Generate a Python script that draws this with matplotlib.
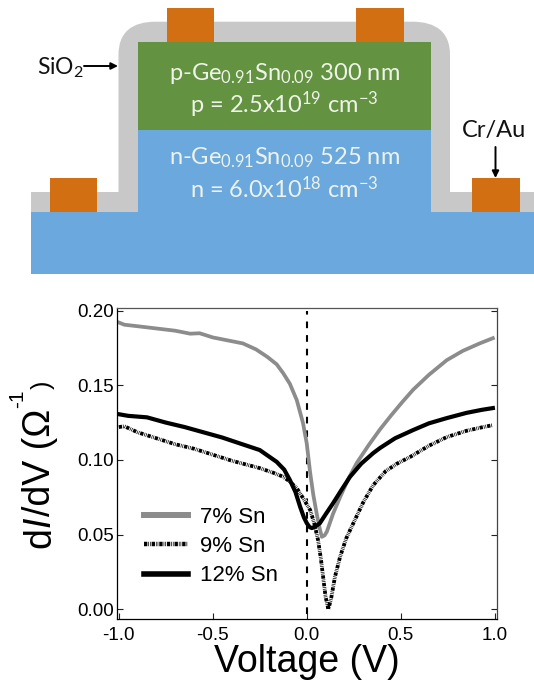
import matplotlib
matplotlib.use("Agg")
import matplotlib.pyplot as plt
from matplotlib.patches import Rectangle, PathPatch
from matplotlib.path import Path

W, H = 534, 686
plt.rcParams['font.family'] = ['Liberation Sans', 'DejaVu Sans']
plt.rcParams['mathtext.fontset'] = 'custom'
plt.rcParams['mathtext.rm'] = 'Lato'
plt.rcParams['mathtext.it'] = 'Lato:italic'
plt.rcParams['lines.scale_dashes'] = False

voltage_a = [-1.0, -0.97, -0.9, -0.8, -0.7, -0.62, -0.57, -0.5, -0.4, -0.34, -0.27, -0.21, -0.16, -0.125, -0.09, -0.053, -0.02, 0.0, 0.018, 0.035, 0.055, 0.07, 0.08, 0.095, 0.107, 0.14, 0.177, 0.22, 0.266, 0.33, 0.39, 0.45, 0.51, 0.566, 0.65, 0.745, 0.83, 0.92, 0.96, 0.99]
sn7 = [0.192, 0.1905, 0.1895, 0.188, 0.1865, 0.1845, 0.1848, 0.182, 0.1795, 0.178, 0.174, 0.169, 0.164, 0.158, 0.151, 0.140, 0.1247, 0.111, 0.0915, 0.0765, 0.0625, 0.0535, 0.0485, 0.0495, 0.052, 0.064, 0.075, 0.087, 0.098, 0.110, 0.1205, 0.130, 0.139, 0.147, 0.157, 0.1668, 0.173, 0.178, 0.180, 0.1815]
voltage_b = [-1.0, -0.97, -0.9, -0.8, -0.7, -0.6, -0.5, -0.4, -0.355, -0.25, -0.18, -0.125, -0.09, -0.053, -0.02, 0.018, 0.04, 0.06, 0.075, 0.087, 0.1, 0.115, 0.13, 0.15, 0.177, 0.21, 0.248, 0.3, 0.353, 0.42, 0.48, 0.55, 0.65, 0.745, 0.85, 0.92, 0.99]
sn9 = [0.122, 0.1225, 0.1185, 0.1145, 0.1105, 0.1075, 0.1035, 0.0995, 0.098, 0.0945, 0.0915, 0.0887, 0.0855, 0.081, 0.0745, 0.0665, 0.0575, 0.0464, 0.034, 0.0217, 0.0085, 0.0, 0.0075, 0.0217, 0.035, 0.0475, 0.0577, 0.0715, 0.083, 0.0925, 0.0975, 0.102, 0.1095, 0.1153, 0.1195, 0.1215, 0.1233]
voltage_c = [-1.0, -0.95, -0.9, -0.85, -0.75, -0.65, -0.55, -0.45, -0.355, -0.25, -0.16, -0.12, -0.09, -0.06, -0.035, -0.015, 0.0, 0.015, 0.027, 0.045, 0.07, 0.1, 0.14, 0.18, 0.23, 0.29, 0.353, 0.39, 0.47, 0.566, 0.65, 0.745, 0.85, 0.93, 0.99]
sn12 = [0.1306, 0.1295, 0.129, 0.1285, 0.125, 0.122, 0.1185, 0.115, 0.111, 0.1066, 0.0987, 0.0935, 0.0866, 0.0785, 0.0685, 0.0615, 0.0577, 0.055, 0.0544, 0.0553, 0.0577, 0.0635, 0.071, 0.079, 0.0887, 0.0975, 0.1045, 0.108, 0.1145, 0.120, 0.1245, 0.128, 0.1315, 0.1335, 0.1347]
x_ticks = [-1.0, -0.5, 0.0, 0.5, 1.0]
y_ticks = [0.00, 0.05, 0.10, 0.15, 0.20]
x_tick_labels = ['-1.0', '-0.5', '0.0', '0.5', '1.0']
y_tick_labels = ['0.00', '0.05', '0.10', '0.15', '0.20']
legend_labels = ['7% Sn', '9% Sn', '12% Sn']

fig = plt.figure(figsize=(W / 100, H / 100), dpi=100, facecolor='white')
bg = fig.add_axes([0, 0, 1, 1])
bg.set_xlim(0, W); bg.set_ylim(H, 0); bg.axis('off')

GRAY, ORANGE, BLUE, GREEN = '#c8c8c8', '#d26f12', '#6aa8dd', '#639241'
def rect(x0, y0, x1, y1, c, z=1):
    bg.add_patch(Rectangle((x0, y0), x1 - x0, y1 - y0, fc=c, ec='none', zorder=z))

rect(31, 192, 534, 213, GRAY)
verts = [(118.5, 213), (118.5, 55), (118.5, 32), (132, 21.7), (156, 21.7), (412, 21.7), (436, 21.7), (450, 32), (450, 55), (450, 213), (118.5, 213)]
codes = [Path.MOVETO, Path.LINETO, Path.CURVE4, Path.CURVE4, Path.CURVE4, Path.LINETO, Path.CURVE4, Path.CURVE4, Path.CURVE4, Path.LINETO, Path.CLOSEPOLY]
bg.add_patch(PathPatch(Path(verts, codes), fc=GRAY, ec='none', zorder=1))
rect(138, 42.3, 431, 130.3, GREEN, 2)
rect(138, 130.3, 431, 212.5, BLUE, 2)
rect(31, 212.3, 534, 274, BLUE, 2)
for x0, x1, y0, y1 in [(167, 214, 8, 42.3), (356, 404, 8, 42.3), (49.5, 97, 178, 212.3), (472, 520, 178, 212.3)]:
    rect(x0, y0, x1, y1, ORANGE, 3)

F = 'Lato'
tc = '#eef3ea'
TS = 17
bg.text(284.5, 74, r'p-Ge$_{0.91}$Sn$_{0.09}$ 300 nm', color=tc, fontsize=TS, ha='center', va='center', family=F, zorder=5)
bg.text(284.5, 105, r'p = 2.5x10$^{19}$ cm$^{-3}$', color=tc, fontsize=TS, ha='center', va='center', family=F, zorder=5)
bg.text(284.5, 158, r'n-Ge$_{0.91}$Sn$_{0.09}$ 525 nm', color=tc, fontsize=TS, ha='center', va='center', family=F, zorder=5)
bg.text(284.5, 189, r'n = 6.0x10$^{18}$ cm$^{-3}$', color=tc, fontsize=TS, ha='center', va='center', family=F, zorder=5)
bg.text(37, 68, r'SiO$_2$', color='#111111', fontsize=16.5, ha='left', va='center', family=F)
bg.text(494, 131, 'Cr/Au', color='#111111', fontsize=17, ha='center', va='center', family=F)
arrow = dict(arrowstyle='-|>,head_width=0.2,head_length=0.4', color='black', lw=1.4, shrinkA=0, shrinkB=0)
bg.annotate('', xy=(118, 66), xytext=(84, 66), arrowprops=arrow)
bg.annotate('', xy=(495.5, 178), xytext=(495.5, 147), arrowprops=arrow)

L, R, T, B = 116.7, 497, 308, 619
ax = fig.add_axes([L / W, 1 - B / H, (R - L) / W, (B - T) / H])
ax.set_xlim(-1.011, 1.012)
ax.set_ylim(-0.0065, 0.2017)
ax.patch.set_alpha(0)
ax.vlines(0, -0.003, 0.2, color='black', lw=1.5, linestyles=[(0, (4.8, 5.0))], zorder=1)
ax.plot(voltage_a, sn7, color='#8c8c8c', lw=2.7, label=legend_labels[0], zorder=2)
ax.plot(voltage_b, sn9, color='white', lw=3.2, zorder=2.5)
ax.plot(voltage_b, sn9, color='black', lw=2.7, dashes=(2.4, 0.7, 0.5, 0.7, 0.5, 0.7), label=legend_labels[1], zorder=3)
ax.plot(voltage_c, sn12, color='black', lw=3.0, label=legend_labels[2], zorder=4)
ax.set_xticks(x_ticks); ax.set_yticks(y_ticks)
ax.set_xticklabels(x_tick_labels)
ax.set_yticklabels(y_tick_labels)
ax.tick_params(direction='in', length=4.3, width=0.8, labelsize=13.5, right=True, color='#222222')
ax.tick_params(axis='y', pad=2)
ax.tick_params(axis='x', pad=5.5)
for s in ax.spines.values():
    s.set_linewidth(0.9)
ax.spines['top'].set_color('#555555')
ax.spines['right'].set_color('#444444')
leg = ax.legend(loc='upper left', bbox_to_anchor=(144, 507), bbox_transform=bg.transData, frameon=False, fontsize=16,
                handlelength=1.98, handletextpad=0.54, labelspacing=0.37, borderpad=0, borderaxespad=0)
for line, lw in zip(leg.get_lines(), [4.3, 3.2, 4.0]):
    line.set_linewidth(lw)
fig.text(307 / W, 1 - 662 / H, 'Voltage (V)', fontsize=27, ha='center', va='center')
yt = dict(rotation=90, ha='left', va='baseline', rotation_mode='anchor')
bg.text(50, 548, 'd', fontsize=27, **yt)
bg.text(50, 527, 'I', fontsize=27, style='italic', **yt)
bg.text(50, 516, '/dV (\u03a9', fontsize=27, **yt)
bg.text(23, 408, '-1', fontsize=15, **yt)
bg.text(50, 389, ')', fontsize=18, **yt)
fig.savefig('out.png', dpi=100)
